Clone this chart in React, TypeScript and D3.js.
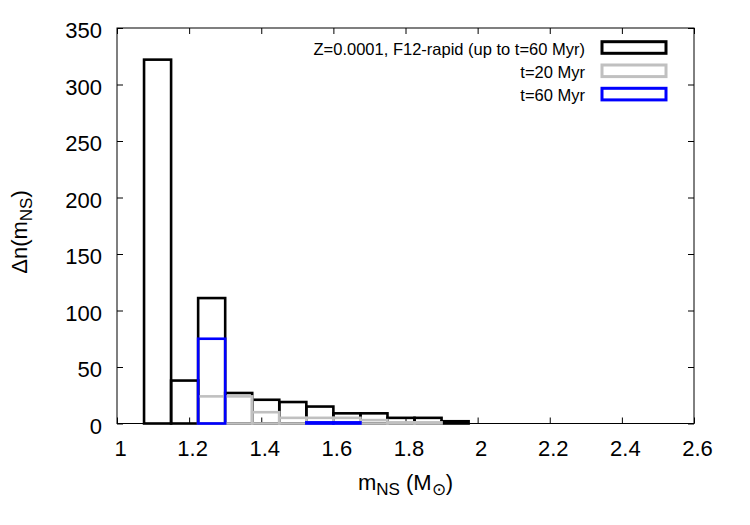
import React, { useRef, useEffect } from 'react'
import * as d3 from 'd3'

// NS mass histogram, lower bin edges in M_sun (bins are 0.075 wide)
const binLow = [1.075, 1.15, 1.225, 1.3, 1.375, 1.45, 1.525, 1.6, 1.675, 1.75, 1.825, 1.9]
const binWidth = 0.075
const countsAll = [322, 38, 111, 27, 21, 19, 15, 9, 9, 5, 5, 2]
const counts20 = [0, 0, 24, 24, 10, 5, 5, 5, 3, 1, 1, 0]
const counts60 = [0, 0, 75, 0, 0, 0, 1, 1, 0, 0, 0, 0]

const seriesNames = ['Z=0.0001, F12-rapid (up to t=60 Myr)', 't=20 Myr', 't=60 Myr']
const seriesColors = ['#000000', '#c0c0c0', '#0000ff']

const xTicks = [1, 1.2, 1.4, 1.6, 1.8, 2, 2.2, 2.4, 2.6]
const yTicks = [0, 50, 100, 150, 200, 250, 300, 350]

const FONT = '"Liberation Sans", Arial, Helvetica, sans-serif'

const MassHistogram = () => {
  const svgRef = useRef(null)

  useEffect(() => {
    const svg = d3.select(svgRef.current)
    const margin = { top: 28, right: 56, bottom: 101.5, left: 117 }
    const width = 750
    const height = 525
    const chartWidth = width - margin.left - margin.right
    const chartHeight = height - margin.top - margin.bottom

    svg.selectAll('*').remove()

    const g = svg.append('g')
      .attr('transform', `translate(${margin.left},${margin.top})`)

    const x = d3.scaleLinear().domain([1, 2.6]).range([0, chartWidth])
    const y = d3.scaleLinear().domain([0, 350]).range([chartHeight, 0])

    // frame
    g.append('rect')
      .attr('width', chartWidth)
      .attr('height', chartHeight)
      .attr('fill', 'none')
      .attr('stroke', '#000')
      .attr('stroke-width', 1)

    // inward ticks on all four sides, labels only bottom/left
    const styleAxis = (sel) => {
      sel.select('.domain').remove()
      sel.selectAll('line').attr('stroke', '#000')
      sel.attr('font-family', FONT).attr('font-size', 22)
      sel.selectAll('text').attr('fill', '#000')
    }

    g.append('g')
      .attr('transform', `translate(0,${chartHeight})`)
      .call(d3.axisBottom(x).tickValues(xTicks).tickSizeInner(-6).tickSizeOuter(0).tickPadding(17)
        .tickFormat(d => String(d)))
      .call(styleAxis)
      .selectAll('text').attr('dx', 3)

    g.append('g')
      .call(d3.axisTop(x).tickValues(xTicks).tickSizeInner(-6).tickSizeOuter(0).tickFormat(() => ''))
      .call(styleAxis)

    g.append('g')
      .call(d3.axisLeft(y).tickValues(yTicks).tickSizeInner(-6).tickSizeOuter(0).tickPadding(15))
      .call(styleAxis)
      .selectAll('text').attr('dy', '0.44em')

    g.append('g')
      .attr('transform', `translate(${chartWidth},0)`)
      .call(d3.axisRight(y).tickValues(yTicks).tickSizeInner(-6).tickSizeOuter(0).tickFormat(() => ''))
      .call(styleAxis)

    // histogram boxes, drawn all -> 20 Myr -> 60 Myr
    const series = [countsAll, counts20, counts60]
    series.forEach((counts, i) => {
      const bins = binLow.map((lo, j) => ({ lo, v: counts[j] })).filter(d => d.v > 0)
      g.selectAll(`.box-${i}`)
        .data(bins)
        .enter().append('rect')
        .attr('class', `box-${i}`)
        .attr('x', d => x(d.lo))
        .attr('y', d => y(d.v))
        .attr('width', d => x(d.lo + binWidth) - x(d.lo))
        .attr('height', d => y(0) - y(d.v))
        .attr('fill', 'none')
        .attr('stroke', seriesColors[i])
        .attr('stroke-width', 2.6)
    })

    // legend
    const legend = g.append('g')
    seriesNames.forEach((name, i) => {
      const cy = 19.5 + i * 23.3
      legend.append('text')
        .attr('x', 468)
        .attr('y', cy + 7.3)
        .attr('text-anchor', 'end')
        .attr('font-family', FONT)
        .attr('font-size', 16.5)
        .text(name)
      legend.append('rect')
        .attr('x', 485)
        .attr('y', cy - 5.8)
        .attr('width', 64)
        .attr('height', 11.6)
        .attr('fill', 'none')
        .attr('stroke', seriesColors[i])
        .attr('stroke-width', 3)
    })

    // axis titles
    const xt = svg.append('text')
      .attr('x', margin.left + chartWidth / 2)
      .attr('y', 490)
      .attr('text-anchor', 'middle')
      .attr('font-family', FONT)
      .attr('font-size', 22)
    xt.append('tspan').text('m')
    xt.append('tspan').attr('font-size', 17).attr('dy', 5).text('NS')
    xt.append('tspan').attr('dy', -5).text(' (M')
    xt.append('tspan').attr('font-size', 17).attr('dy', 5).text('\u2299')
    xt.append('tspan').attr('dy', -5).text(')')

    const yt = svg.append('text')
      .attr('transform', 'translate(27,232) rotate(-90)')
      .attr('text-anchor', 'middle')
      .attr('font-family', FONT)
      .attr('font-size', 22)
    yt.append('tspan').text('\u0394n(m')
    yt.append('tspan').attr('font-size', 17).attr('dy', 5).text('NS')
    yt.append('tspan').attr('dy', -5).text(')')
  }, [])

  return (
    <div style={{ position: 'absolute', left: 0, top: 0 }}>
      <svg ref={svgRef} width={750} height={525} style={{ display: 'block', background: '#fff' }}></svg>
    </div>
  )
}

export default function App() {
  return <MassHistogram />
}
